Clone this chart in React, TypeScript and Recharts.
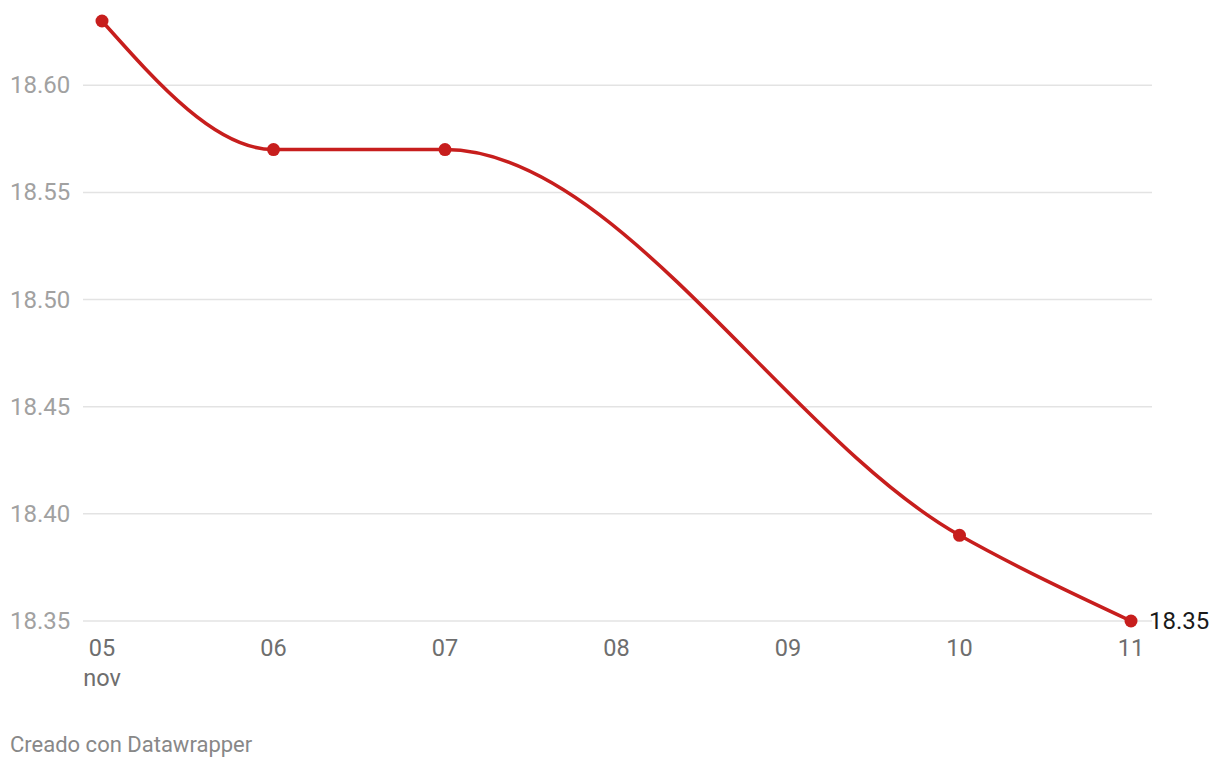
import { LineChart, Line, XAxis, YAxis, CartesianGrid, LabelList } from "recharts"

const days = [5, 6, 7, 10, 11]
const values = [18.63, 18.57, 18.57, 18.39, 18.35]
const xTicks = [5, 6, 7, 8, 9, 10, 11]
const yTicks = [18.35, 18.4, 18.45, 18.5, 18.55, 18.6]
const monthLabel = "nov"

const data = days.map((day, i) => ({ day, value: values[i] }))

const RED = "#c71e1d"
const FONT = "Roboto, 'Noto Sans', sans-serif"

function YTick(props: any) {
  const { y, payload } = props
  return (
    <text x={10} y={y} dy={8} textAnchor="start" fill="#a1a1a1" fontSize={24} fontFamily={FONT}>
      {payload.value.toFixed(2)}
    </text>
  )
}

function XTick(props: any) {
  const { x, y, payload } = props
  const label = String(payload.value).padStart(2, "0")
  return (
    <g>
      <text x={x} y={y} dy={35} textAnchor="middle" fill="#6e6e6e" fontSize={23.5} fontFamily={FONT}>
        {label}
      </text>
      {payload.value === xTicks[0] && (
        <text x={x} y={y} dy={65} textAnchor="middle" fill="#6e6e6e" fontSize={23.5} fontFamily={FONT}>
          {monthLabel}
        </text>
      )}
    </g>
  )
}

function EndLabel(props: any) {
  const { x, y, index, value } = props
  if (index !== data.length - 1) return null
  return (
    <text x={x + 18} y={y} dy={8} textAnchor="start" fill="#1a1a1a" fontSize={24} fontFamily={FONT}>
      {value.toFixed(2)}
    </text>
  )
}

export default function App() {
  return (
    <div style={{ position: "absolute", left: 0, top: 0, width: 1220, height: 768, background: "#fff", fontFamily: FONT }}>
      <LineChart width={1220} height={700} data={data} margin={{ top: 21, right: 68, bottom: 19, left: 0 }}>
        <CartesianGrid vertical={false} horizontalValues={yTicks} stroke="#e3e3e3" strokeWidth={1.5} />
        <XAxis
          dataKey="day"
          type="number"
          domain={[5, 11]}
          ticks={xTicks}
          tick={<XTick />}
          tickLine={false}
          axisLine={false}
          tickSize={0}
          tickMargin={0}
          height={60}
          padding={{ left: 19, right: 21 }}
          interval={0}
        />
        <YAxis
          type="number"
          domain={[18.35, 18.63]}
          ticks={yTicks}
          tick={<YTick />}
          tickLine={false}
          axisLine={false}
          width={83}
          interval={0}
        />
        <Line
          type="monotoneX"
          dataKey="value"
          stroke={RED}
          strokeWidth={3.5}
          dot={{ r: 6.5, fill: RED, stroke: "none" }}
          activeDot={false}
          isAnimationActive={false}
        >
          <LabelList dataKey="value" content={<EndLabel />} />
        </Line>
      </LineChart>
      <div style={{ position: "absolute", left: 10, top: 731, fontSize: 22, lineHeight: "27px", color: "#888", fontFamily: FONT }}>
        Creado con Datawrapper
      </div>
    </div>
  )
}
